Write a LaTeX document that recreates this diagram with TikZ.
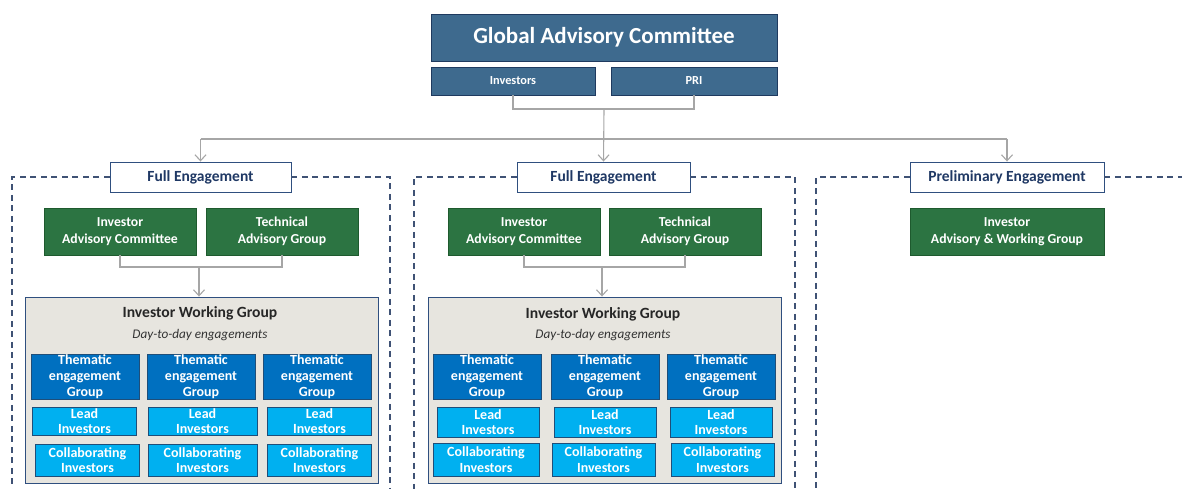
\documentclass[tikz,border=0pt]{standalone}
\usepackage{fontspec}
\setmainfont{Carlito}
\usetikzlibrary{arrows.meta,calc}
\definecolor{gacblue}{HTML}{3E6A8E}
\definecolor{gacline}{HTML}{1F3A5F}
\definecolor{navy}{HTML}{1F3864}
\definecolor{grn}{HTML}{2C7442}
\definecolor{grnline}{HTML}{1E5A2E}
\definecolor{thblue}{HTML}{0070C0}
\definecolor{ltblue}{HTML}{00B0F0}
\definecolor{bxline}{HTML}{1F4E79}
\definecolor{wgfill}{HTML}{E7E5DF}
\definecolor{wgline}{HTML}{2F4F7F}
\definecolor{conn}{HTML}{A6A6A6}
\definecolor{dashc}{HTML}{3F5275}
\tikzset{
  box/.style={rectangle, draw, line width=0.9pt, inner sep=0pt, align=center},
  gacbox/.style={box, fill=gacblue, draw=gacline, text=white, font=\bfseries\fontsize{23}{26}\selectfont},
  gacsub/.style={box, fill=gacblue, draw=gacline, text=white, font=\bfseries\fontsize{12.3}{14}\selectfont, minimum height=28pt},
  engbox/.style={box, fill=white, draw=wgline, text=navy, font=\bfseries\fontsize{15.5}{18}\selectfont, minimum height=30pt},
  grnbox/.style={box, fill=grn, draw=grnline, text=white, font=\bfseries\fontsize{13.7}{17.5}\selectfont, minimum height=47pt},
  wgbox/.style={box, fill=wgfill, draw=wgline, minimum width=353pt, minimum height=186pt},
  wgtitle/.style={inner sep=0pt, text=black!85, font=\bfseries\fontsize{15.6}{18}\selectfont},
  wgsub/.style={inner sep=0pt, text=black!80, font=\itshape\fontsize{13.2}{15}\selectfont},
  thbox/.style={box, fill=thblue, draw=bxline, text=white, font=\bfseries\fontsize{14}{15.8}\selectfont, minimum width=108pt, minimum height=45pt},
  ldbox/.style={box, fill=ltblue, draw=bxline, text=white, font=\bfseries\fontsize{14}{15.5}\selectfont, minimum width=104pt},
  connline/.style={draw=conn, line width=1.1pt},
  connarrow/.style={connline, -{Straight Barb[length=6pt,width=11pt,line width=1.1pt]}},
  dashline/.style={draw=dashc, line width=1.1pt, dash pattern=on 6pt off 4.5pt},
}
\begin{document}
\begin{tikzpicture}[x=1pt,y=-1pt]
\useasboundingbox (0,0) rectangle (1182,489);
% top
\node[gacbox, minimum width=346pt, minimum height=47pt] (gac) at (604,37.5) {Global Advisory Committee};
\node[gacsub, minimum width=164pt] (inv) at (513,81) {Investors};
\node[gacsub, minimum width=166pt] (pri) at (694,81) {PRI};
% engagement headers
\node[engbox, minimum width=181pt] (fe1) at (200.5,177) {Full Engagement};
\node[engbox, minimum width=173pt] (fe2) at (603.5,177) {Full Engagement};
\node[engbox, minimum width=194pt] (pe) at (1007,177) {Preliminary Engagement};
% dashed frames
\draw[dashline] (fe1.west) -- (12,177) -- (12,489);
\draw[dashline] (fe1.east) -- (390,177) -- (390,489);
\draw[dashline] (fe2.west) -- (414,177) -- (414,489);
\draw[dashline] (fe2.east) -- (795,177) -- (795,489);
\draw[dashline] (pe.west) -- (816,177) -- (816,489);
\draw[dashline] (pe.east) -- (1182,177);
% top connectors
\coordinate (j) at (604,109);
\coordinate (hb) at (604,139);
\draw[connline] (inv.south) |- (j) -| (pri.south);
\draw[connarrow] (j) -- (fe2.north);
\draw[connline] (fe1.north |- hb) -- (pe.north |- hb);
\draw[connarrow] (fe1.north |- hb) -- (fe1.north);
\draw[connarrow] (pe.north |- hb) -- (pe.north);
% green boxes
\node[grnbox, minimum width=152pt] (iac1) at (120,231.5) {Investor\\Advisory Committee};
\node[grnbox, minimum width=152pt] (tag1) at (282,231.5) {Technical\\Advisory Group};
\node[grnbox, minimum width=152pt] (iac2) at (524,231.5) {Investor\\Advisory Committee};
\node[grnbox, minimum width=152pt] (tag2) at (685,231.5) {Technical\\Advisory Group};
\node[grnbox, minimum width=194pt] (iawg) at (1007,231.5) {Investor\\Advisory \& Working Group};
% working groups
\node[wgbox] (wg1) at (201.5,390) {};
\node[wgbox] (wg2) at (604.5,390) {};
\node[wgtitle] (wgt1) at (200,313) {Investor Working Group};
\node[wgsub] (wgs1) at (200,335) {Day-to-day engagements};
\node[wgtitle] (wgt2) at (603,314) {Investor Working Group};
\node[wgsub] (wgs2) at (603,335) {Day-to-day engagements};
% green -> wg connectors
\coordinate (m1) at (199,267);
\coordinate (m2) at (602,267);
\draw[connline] (iac1.south) |- (m1) -| (tag1.south);
\draw[connarrow] (m1) -- (wg1.north -| m1);
\draw[connline] (iac2.south) |- (m2) -| (tag2.south);
\draw[connarrow] (m2) -- (wg2.north -| m2);
% thematic column 1
\node[thbox] (th11) at (85,376.5) {Thematic\\engagement\\Group};
\node[thbox] (th12) at (201,376.5) {Thematic\\engagement\\Group};
\node[thbox] (th13) at (317,376.5) {Thematic\\engagement\\Group};
\node[ldbox, minimum height=28pt] (ld11) at (84.5,421) {Lead\\Investors};
\node[ldbox, minimum height=28pt, minimum width=109pt] (ld12) at (202.5,421) {Lead\\Investors};
\node[ldbox, minimum height=28pt] (ld13) at (319.5,421) {Lead\\Investors};
\node[ldbox, minimum height=32pt] (cl11) at (87.5,460) {Collaborating\\Investors};
\node[ldbox, minimum height=32pt, minimum width=109pt] (cl12) at (202.5,460) {Collaborating\\Investors};
\node[ldbox, minimum height=32pt] (cl13) at (319.5,460) {Collaborating\\Investors};
% thematic column 2
\node[thbox] (th21) at (487,376.5) {Thematic\\engagement\\Group};
\node[thbox] (th22) at (605,376.5) {Thematic\\engagement\\Group};
\node[thbox] (th23) at (721,376.5) {Thematic\\engagement\\Group};
\node[ldbox, minimum height=30pt, minimum width=102pt] (ld21) at (488,422) {Lead\\Investors};
\node[ldbox, minimum height=30pt, minimum width=102pt] (ld22) at (605,422) {Lead\\Investors};
\node[ldbox, minimum height=30pt, minimum width=102pt] (ld23) at (721,422) {Lead\\Investors};
\node[ldbox, minimum height=33pt, minimum width=106pt] (cl21) at (486,459.5) {Collaborating\\Investors};
\node[ldbox, minimum height=33pt, minimum width=103pt] (cl22) at (603.5,459.5) {Collaborating\\Investors};
\node[ldbox, minimum height=33pt, minimum width=103pt] (cl23) at (722.5,459.5) {Collaborating\\Investors};
\end{tikzpicture}
\end{document}
